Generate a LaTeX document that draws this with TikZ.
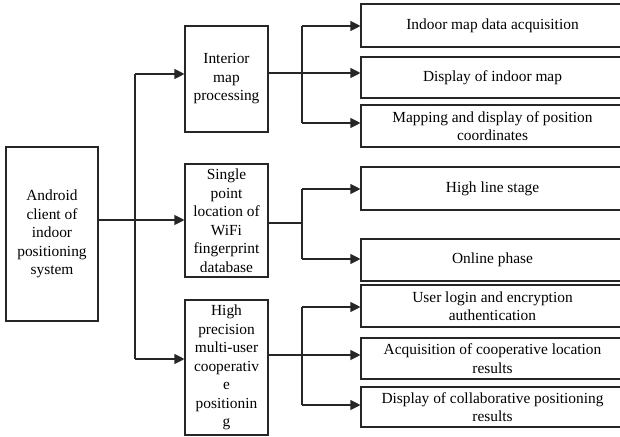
\documentclass[tikz,border=0pt]{standalone}
\usepackage{fontspec}
\setmainfont{Liberation Serif}
\usetikzlibrary{arrows.meta}
\begin{document}
\begin{tikzpicture}[x=1pt,y=-1pt,
  box/.style={draw=black!85,line width=1.1pt,rectangle,inner sep=0pt,align=center,
    font=\fontsize{15.4}{18.5}\selectfont},
  midbox/.style={box,minimum width=83pt},
  leafbox/.style={box,minimum width=263pt,minimum height=42pt},
  link/.style={draw=black!85,line width=1.1pt},
  arr/.style={link,-{Triangle[length=10pt,width=10pt]}}]
\useasboundingbox (0,0) rectangle (620,436);

% root
\node[box,minimum width=92pt,minimum height=174pt] (root) at (52,234)
  {Android\\client of\\indoor\\positioning\\system};

% second level
\node[midbox,minimum height=106pt] (m1) at (226.5,79) {Interior\\map\\processing};
\node[midbox,minimum height=113pt] (m2) at (226.5,220.5)
  {Single\\point\\location of\\WiFi\\fingerprint\\database};
\node[midbox,minimum height=135pt] (m3) at (226.5,367.5)
  {High\\precision\\multi-user\\cooperativ\\e\\positionin\\g};

% third level
\node[leafbox,minimum height=43pt] (l1) at (492.5,25.5) {Indoor map data acquisition};
\node[leafbox,minimum height=41pt] (l2) at (492.5,77.5) {Display of indoor map};
\node[leafbox] (l3) at (492.5,126) {Mapping and display of position\\coordinates};
\node[leafbox,minimum height=43pt] (l4) at (492.5,188.5) {High line stage};
\node[leafbox] (l5) at (492.5,260) {Online phase};
\node[leafbox] (l6) at (492.5,306) {User login and encryption\\authentication};
\node[leafbox,minimum height=41pt] (l7) at (492.5,358.5) {Acquisition of cooperative location\\results};
\node[leafbox,minimum height=40pt] (l8) at (492.5,407) {Display of collaborative positioning\\results};

% trunk from the root
\coordinate (t0) at (135,220);
\coordinate (t1) at (135,74);
\coordinate (t3) at (135,359);
\draw[link] (root.east |- t0) -- (t0);
\draw[link] (t1) -- (t3);
\draw[arr] (t1) -- (m1.west |- t1);
\draw[arr] (t0) -- (m2.west |- t0);
\draw[arr] (t3) -- (m3.west |- t3);

% branch of the first group
\coordinate (a0) at (302,73);
\coordinate (a1) at (302,26);
\coordinate (a3) at (302,123);
\draw[link] (m1.east |- a0) -- (a0);
\draw[link] (a1) -- (a3);
\draw[arr] (a1) -- (l1.west |- a1);
\draw[arr] (a0) -- (l2.west |- a0);
\draw[arr] (a3) -- (l3.west |- a3);

% branch of the second group
\coordinate (b0) at (302,223);
\coordinate (b1) at (302,189);
\coordinate (b2) at (302,259);
\draw[link] (m2.east |- b0) -- (b0);
\draw[link] (b1) -- (b2);
\draw[arr] (b1) -- (l4.west |- b1);
\draw[arr] (b2) -- (l5.west |- b2);

% branch of the third group
\coordinate (c0) at (302,355);
\coordinate (c1) at (302,307);
\coordinate (c3) at (302,405);
\draw[link] (m3.east |- c0) -- (c0);
\draw[link] (c1) -- (c3);
\draw[arr] (c1) -- (l6.west |- c1);
\draw[arr] (c0) -- (l7.west |- c0);
\draw[arr] (c3) -- (l8.west |- c3);
\end{tikzpicture}
\end{document}
